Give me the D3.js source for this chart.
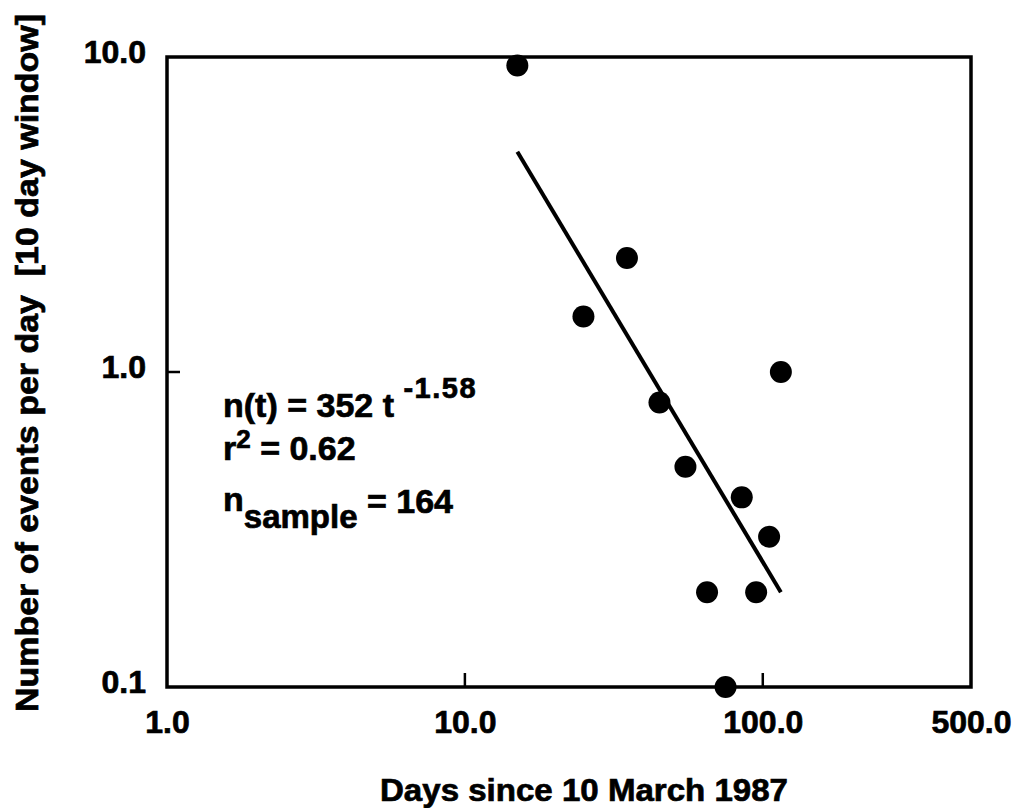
<!DOCTYPE html>
<html><head><meta charset="utf-8">
<script src="https://cdn.jsdelivr.net/npm/d3@7"></script>
<style>
body{margin:0;background:#fff;}
svg text{font-family:"Liberation Sans",Arial,Helvetica,sans-serif;font-weight:bold;fill:#000;stroke:#000;stroke-width:0.7px;white-space:pre;}
</style></head>
<body><svg id="c" width="1020" height="808"></svg>
<script>
const days = [15,25,35,45,55,65,75,85,95,105,115];
const rate = [9.4,1.5,2.3,0.8,0.5,0.2,0.1,0.4,0.2,0.3,1.0];
const fitDays = [15,115];
const fitRate = [5.0,0.2];
const xTicks = [1,10,100,500];
const yTicks = [0.1,1,10];
const xInnerTicks = [10,100];
const yInnerTicks = [1];

const svg = d3.select("#c");
const L=167,R=971,T=57,B=687;
const x = d3.scaleLog().domain([1,500]).range([L,R]);
const y = d3.scaleLog().domain([0.1,10]).range([B,T]);
const fmt = d3.format(".1f");
const FF = "Liberation Sans, Arial, sans-serif";

// axes labels
const gx = svg.append("g").attr("transform",`translate(0,${B})`)
  .call(d3.axisBottom(x).tickValues(xTicks).tickFormat(fmt).tickSize(0).tickPadding(23));
gx.select(".domain").remove();
gx.selectAll("text").attr("font-size",32).attr("font-family",FF).attr("font-weight","bold");

const gy = svg.append("g").attr("transform",`translate(${L},0)`)
  .call(d3.axisLeft(y).tickValues(yTicks).tickFormat(fmt).tickSize(0).tickPadding(21));
gy.select(".domain").remove();
gy.selectAll("text").attr("font-size",32).attr("font-family",FF).attr("font-weight","bold").attr("dy","0.18em");

// inner ticks
svg.selectAll(".xt").data(xInnerTicks).enter().append("line")
  .attr("x1",d=>x(d)).attr("x2",d=>x(d)).attr("y1",B).attr("y2",B-14)
  .attr("stroke","#000").attr("stroke-width",2.5);
svg.selectAll(".yt").data(yInnerTicks).enter().append("line")
  .attr("x1",L).attr("x2",L+13).attr("y1",d=>y(d)).attr("y2",d=>y(d))
  .attr("stroke","#000").attr("stroke-width",2.5);

// frame
svg.append("rect").attr("x",L).attr("y",T).attr("width",R-L).attr("height",B-T)
  .attr("fill","none").attr("stroke","#000").attr("stroke-width",3.5);

// fit line
svg.append("path").datum(fitDays.map((d,i)=>[d,fitRate[i]]))
  .attr("d",d3.line().x(d=>x(d[0])).y(d=>y(d[1])))
  .attr("stroke","#000").attr("stroke-width",4).attr("fill","none");

// points
svg.selectAll(".pt").data(days.map((d,i)=>[d,rate[i]])).enter().append("circle")
  .attr("cx",d=>x(d[0])).attr("cy",d=>y(d[1])).attr("r",11).attr("fill","#000");

// annotations
const t1 = svg.append("text").attr("x",223).attr("y",417).attr("font-size",34);
t1.append("tspan").text("n(t) = 352 t ");
t1.append("tspan").attr("dy",-19).attr("font-size",29).attr("letter-spacing",1.5).text("-1.58");
const t2 = svg.append("text").attr("x",223).attr("y",460).attr("font-size",34);
t2.append("tspan").text("r");
t2.append("tspan").attr("dy",-12).attr("font-size",26).text("2");
t2.append("tspan").attr("dy",12).text(" = 0.62");
const t3 = svg.append("text").attr("x",223).attr("y",511).attr("font-size",34);
t3.append("tspan").text("n");
t3.append("tspan").attr("dy",17).attr("font-size",33).text("sample");
t3.append("tspan").attr("dy",-15).text(" = 164");

// axis titles
svg.append("text").attr("x",584).attr("y",801).attr("text-anchor","middle")
  .attr("font-size",32).attr("textLength",408).attr("lengthAdjust","spacingAndGlyphs")
  .text("Days since 10 March 1987");
svg.append("text").attr("transform","translate(38,363) rotate(-90)").attr("text-anchor","middle")
  .attr("font-size",31).attr("textLength",698).attr("lengthAdjust","spacingAndGlyphs")
  .text("Number of events per day  [10 day window]");
</script></body></html>
